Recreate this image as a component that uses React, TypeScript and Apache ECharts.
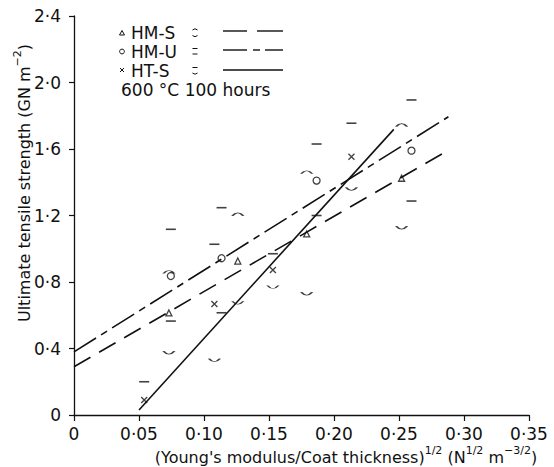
import React, { useEffect, useRef } from 'react';
import * as echarts from 'echarts';

// Axis ticks
const xTickValues = [0, 0.05, 0.1, 0.15, 0.2, 0.25, 0.3, 0.35];
const yTickValues = [0, 0.4, 0.8, 1.2, 1.6, 2.0, 2.4];

// HM-S (triangles) with error limits
const hmsX = [0.073, 0.126, 0.179, 0.252];
const hmsY = [0.614, 0.926, 1.089, 1.424];
const hmsHigh = [0.86, 1.207, 1.46, 1.744];
const hmsLow = [0.375, 0.675, 0.73, 1.127];

// HM-U (circles)
const hmuX = [0.0745, 0.1135, 0.1866, 0.2596];
const hmuY = [0.836, 0.943, 1.41, 1.59];
const hmuHigh = [1.117, 1.247, 1.63, 1.895];
const hmuLow = [0.565, 0.615, 1.2, 1.287];

// HT-S (crosses)
const htsX = [0.054, 0.108, 0.153, 0.2134];
const htsY = [0.09, 0.668, 0.872, 1.553];
const htsHigh = [0.2, 1.027, 0.97, 1.755];
const htsLow: (number | null)[] = [null, 0.33, 0.77, 1.36];

// Fitted lines (end points)
const hmsFitX = [0, 0.286];
const hmsFitY = [0.29, 1.584];
const hmuFitX = [0, 0.288];
const hmuFitY = [0.38, 1.794];
const htsFitX = [0.05, 0.246];
const htsFitY = [0.03, 1.718];

const FONT = '"DejaVu Sans", "Liberation Sans", sans-serif';
const INK = '#111';

const ARC_UP = 'path://M0,6 Q6,-1 12,6';
const ARC_DOWN = 'path://M0,0 Q6,7 12,0';
const CROSS = 'path://M0,0L10,10M10,0L0,10';

const pairs = (xs: number[], ys: (number | null)[]) =>
  xs.map((x, i) => [x, ys[i]]).filter((p) => p[1] !== null);

const fmt = (v: number, d: number) => (v === 0 ? '0' : v.toFixed(d).replace('.', '·'));

export default function App() {
  const ref = useRef<HTMLDivElement>(null);

  useEffect(() => {
    if (!ref.current) return;
    const chart = echarts.init(ref.current, undefined, { renderer: 'svg' });

    const markerStroke = { color: 'none', borderColor: INK, borderWidth: 1.3 };
    const barFlat = (name: string, xs: number[], ys: (number | null)[]) => ({
      type: 'scatter',
      name,
      data: pairs(xs, ys),
      symbol: 'rect',
      symbolSize: [10, 1.6],
      itemStyle: { color: INK },
      silent: true,
      z: 3,
    });
    const barArc = (name: string, xs: number[], ys: (number | null)[], up: boolean) => ({
      type: 'scatter',
      name,
      data: pairs(xs, ys),
      symbol: up ? ARC_UP : ARC_DOWN,
      symbolSize: [11, 3],
      itemStyle: markerStroke,
      silent: true,
      z: 3,
    });
    const fit = (xs: number[], ys: number[], dash: any) => ({
      type: 'line',
      data: xs.map((x, i) => [x, ys[i]]),
      showSymbol: false,
      symbol: 'none',
      lineStyle: { color: INK, width: 1.6, type: dash },
      silent: true,
      z: 2,
    });

    const LF = `17px ${FONT}`;
    const legendGraphics: any[] = [
      // Row 1: HM-S
      { type: 'polygon', shape: { points: [[119.5, 35], [124.5, 35], [122, 30.5]] }, style: { fill: 'none', stroke: INK, lineWidth: 1 } },
      { type: 'text', x: 131, y: 33, style: { text: 'HM-S', font: LF, fill: INK, textVerticalAlign: 'middle', verticalAlign: 'middle' } },
      { type: 'bezierCurve', shape: { x1: 192.5, y1: 30, x2: 197.5, y2: 30, cpx1: 195, cpy1: 27.5 }, style: { stroke: INK, lineWidth: 1, fill: 'none' } },
      { type: 'bezierCurve', shape: { x1: 192.5, y1: 35.5, x2: 197.5, y2: 35.5, cpx1: 195, cpy1: 38 }, style: { stroke: INK, lineWidth: 1, fill: 'none' } },
      { type: 'line', shape: { x1: 223, y1: 31, x2: 247, y2: 31 }, style: { stroke: INK, lineWidth: 1.4 } },
      { type: 'line', shape: { x1: 257, y1: 31, x2: 283, y2: 31 }, style: { stroke: INK, lineWidth: 1.4 } },
      // Row 2: HM-U
      { type: 'circle', shape: { cx: 122, cy: 51.5, r: 2.4 }, style: { fill: 'none', stroke: INK, lineWidth: 1 } },
      { type: 'text', x: 131, y: 51.5, style: { text: 'HM-U', font: LF, fill: INK, textVerticalAlign: 'middle', verticalAlign: 'middle' } },
      { type: 'line', shape: { x1: 192.5, y1: 48.5, x2: 197.5, y2: 48.5 }, style: { stroke: INK, lineWidth: 1 } },
      { type: 'line', shape: { x1: 192.5, y1: 54, x2: 197.5, y2: 54 }, style: { stroke: INK, lineWidth: 1 } },
      { type: 'line', shape: { x1: 223, y1: 50, x2: 247, y2: 50 }, style: { stroke: INK, lineWidth: 1.4 } },
      { type: 'line', shape: { x1: 253, y1: 50, x2: 260, y2: 50 }, style: { stroke: INK, lineWidth: 1.4 } },
      { type: 'line', shape: { x1: 265, y1: 50, x2: 283, y2: 50 }, style: { stroke: INK, lineWidth: 1.4 } },
      // Row 3: HT-S
      { type: 'line', shape: { x1: 120, y1: 68, x2: 124, y2: 72 }, style: { stroke: INK, lineWidth: 1 } },
      { type: 'line', shape: { x1: 124, y1: 68, x2: 120, y2: 72 }, style: { stroke: INK, lineWidth: 1 } },
      { type: 'text', x: 131, y: 70.5, style: { text: 'HT-S', font: LF, fill: INK, textVerticalAlign: 'middle', verticalAlign: 'middle' } },
      { type: 'line', shape: { x1: 192.5, y1: 67.5, x2: 197.5, y2: 67.5 }, style: { stroke: INK, lineWidth: 1 } },
      { type: 'bezierCurve', shape: { x1: 192.5, y1: 73, x2: 197.5, y2: 73, cpx1: 195, cpy1: 75.5 }, style: { stroke: INK, lineWidth: 1, fill: 'none' } },
      { type: 'line', shape: { x1: 223, y1: 70, x2: 283, y2: 70 }, style: { stroke: INK, lineWidth: 1.4 } },
      // Row 4
      { type: 'text', x: 121, y: 89.5, style: { text: '600 °C 100 hours', font: LF, fill: INK, textVerticalAlign: 'middle', verticalAlign: 'middle' } },
      // Axis titles
      {
        type: 'text',
        x: 22,
        y: 183,
        rotation: Math.PI / 2,
        style: {
          text: '{a|Ultimate tensile strength (GN m}{s|−2}{a|)}',
          textAlign: 'center',
          align: 'center',
          textVerticalAlign: 'middle',
          verticalAlign: 'middle',
          rich: {
            a: { font: `16px ${FONT}`, fill: INK, lineHeight: 21, verticalAlign: 'bottom' },
            s: { font: `11px ${FONT}`, fill: INK, lineHeight: 21, verticalAlign: 'top' },
          },
        },
      },
      {
        type: 'text',
        x: 346,
        y: 455,
        style: {
          text: "{a|(Young's modulus/Coat thickness)}{s|1/2}{a| (N}{s|1/2}{a| m}{s|−3/2}{a|)}",
          textAlign: 'center',
          align: 'center',
          textVerticalAlign: 'middle',
          verticalAlign: 'middle',
          rich: {
            a: { font: `16px ${FONT}`, fill: INK, lineHeight: 21, verticalAlign: 'bottom' },
            s: { font: `11px ${FONT}`, fill: INK, lineHeight: 21, verticalAlign: 'top' },
          },
        },
      },
    ];

    chart.setOption({
      animation: false,
      backgroundColor: '#fff',
      grid: { left: 74, right: 25, top: 16, bottom: 52, containLabel: false },
      xAxis: {
        type: 'value',
        min: xTickValues[0],
        max: xTickValues[xTickValues.length - 1],
        interval: 0.05,
        splitLine: { show: false },
        axisLine: { show: true, onZero: false, lineStyle: { color: INK, width: 1.3 } },
        axisTick: { show: true, inside: false, length: 6, lineStyle: { color: INK, width: 1.2 } },
        axisLabel: {
          margin: 10,
          color: INK,
          fontSize: 17,
          fontFamily: FONT,
          formatter: (v: number) => fmt(v, 2),
        },
      },
      yAxis: {
        type: 'value',
        min: yTickValues[0],
        max: yTickValues[yTickValues.length - 1],
        interval: 0.4,
        splitLine: { show: false },
        axisLine: { show: true, onZero: false, lineStyle: { color: INK, width: 1.3 } },
        axisTick: { show: true, inside: false, length: 5, lineStyle: { color: INK, width: 1.2 } },
        axisLabel: {
          margin: 13,
          color: INK,
          fontSize: 17,
          fontFamily: FONT,
          formatter: (v: number) => fmt(v, 1),
        },
      },
      graphic: legendGraphics,
      series: [
        fit(hmsFitX, hmsFitY, [19, 10]),
        fit(hmuFitX, hmuFitY, [26, 6, 7, 6]),
        fit(htsFitX, htsFitY, 'solid'),
        {
          type: 'scatter',
          name: 'HM-S',
          data: pairs(hmsX, hmsY),
          symbol: 'triangle',
          symbolSize: 6,
          itemStyle: markerStroke,
          z: 4,
        },
        {
          type: 'scatter',
          name: 'HM-U',
          data: pairs(hmuX, hmuY),
          symbol: 'circle',
          symbolSize: 7,
          itemStyle: markerStroke,
          z: 4,
        },
        {
          type: 'scatter',
          name: 'HT-S',
          data: pairs(htsX, htsY),
          symbol: CROSS,
          symbolSize: 6,
          itemStyle: markerStroke,
          z: 4,
        },
        barArc('HM-S upper', hmsX, hmsHigh, true),
        barArc('HM-S lower', hmsX, hmsLow, false),
        barFlat('HM-U upper', hmuX, hmuHigh),
        barFlat('HM-U lower', hmuX, hmuLow),
        barFlat('HT-S upper', htsX, htsHigh),
        barArc('HT-S lower', htsX, htsLow, false),
      ],
    });

    return () => chart.dispose();
  }, []);

  return (
    <div
      ref={ref}
      style={{ position: 'fixed', left: 0, top: 0, width: 554, height: 467, background: '#fff' }}
    />
  );
}
